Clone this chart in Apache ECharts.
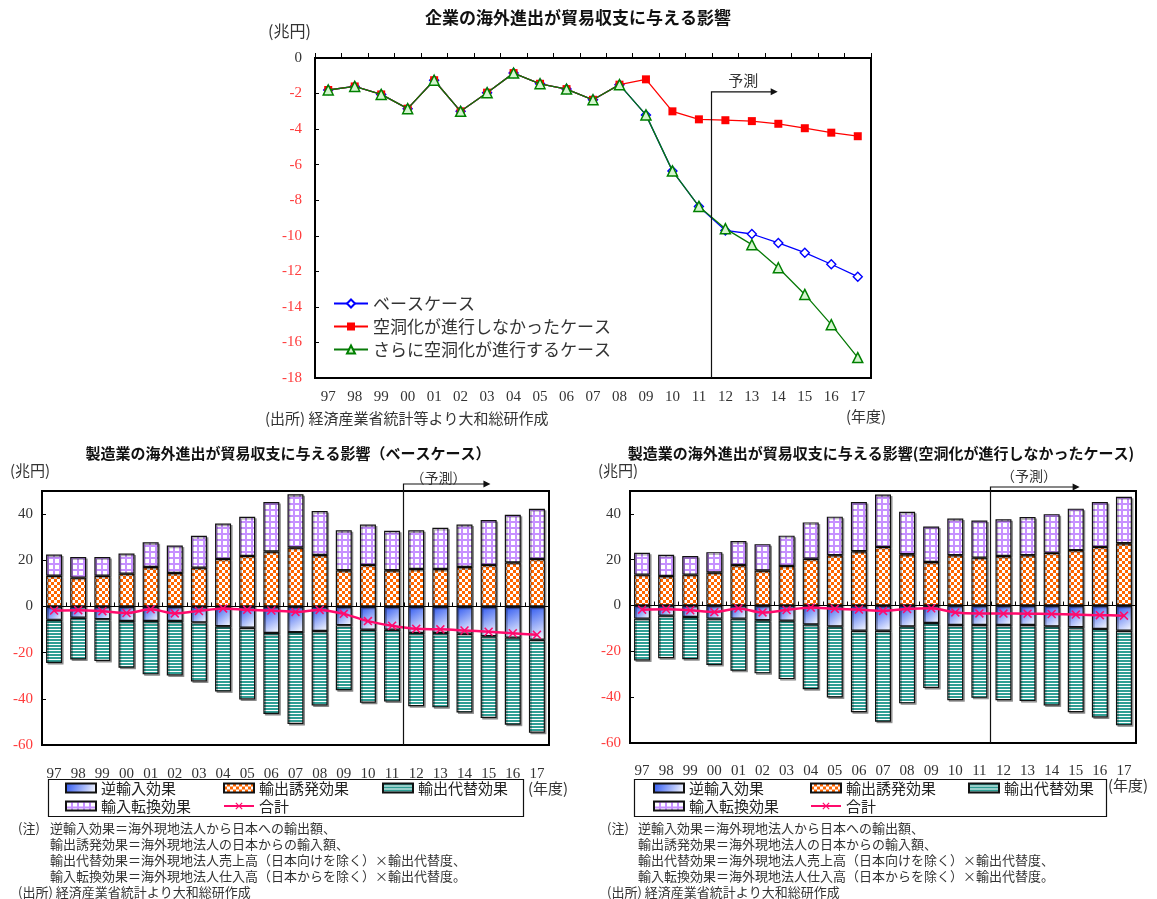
<!DOCTYPE html>
<html>
<head>
<meta charset="utf-8">
<script src="https://cdn.jsdelivr.net/npm/echarts@6.0.0/dist/echarts.min.js"></script>
<style>
  html, body { margin: 0; padding: 0; background: #fff; }
  #chart { width: 1157px; height: 899px; }
</style>
</head>
<body>
<div id="chart"></div>
<script>
// ---- data (兆円, 年度) ----
const years = ['97','98','99','00','01','02','03','04','05','06','07','08','09','10','11','12','13','14','15','16','17'];

// 企業の海外進出が貿易収支に与える影響
const baseCase       = [-1.8,-1.6,-2.05,-2.85,-1.25,-3.0,-1.95,-0.85,-1.45,-1.75,-2.35,-1.5,-3.2,-6.35,-8.35,-9.7,-9.9,-10.4,-10.95,-11.6,-12.3];
const noHollowCase   = [-1.8,-1.6,-2.05,-2.85,-1.25,-3.0,-1.95,-0.85,-1.45,-1.75,-2.35,-1.5,-1.2,-3.0,-3.45,-3.5,-3.55,-3.7,-3.95,-4.2,-4.4];
const moreHollowCase = [-1.8,-1.6,-2.05,-2.85,-1.25,-3.0,-1.95,-0.85,-1.45,-1.75,-2.35,-1.5,-3.2,-6.35,-8.35,-9.6,-10.5,-11.8,-13.3,-15.0,-16.85];

// 製造業（ベースケース）
const baseReverseImport = [-5.8,-4.9,-5.5,-6.3,-6.3,-6.3,-6.9,-8.6,-9.2,-11.5,-11.1,-10.6,-8.1,-10.1,-10.1,-11.5,-11.5,-11.8,-12.9,-13.5,-14.4];
const baseExportInduce  = [13.3,12.5,13.3,14.2,17.1,14.5,16.8,20.6,21.9,23.8,25.5,22.3,15.7,18.0,15.7,16.2,16.2,17.1,18.0,19.1,20.6];
const baseExportSubst   = [-18.7,-18.1,-18.1,-20.2,-23.1,-23.6,-25.6,-28.2,-31.1,-35.1,-39.8,-32.3,-28.2,-31.6,-31.1,-31.7,-32.2,-34.1,-35.4,-37.7,-40.3];
const baseImportConv    = [9.2,8.9,8.1,8.7,10.7,11.9,13.8,15.3,16.9,21.4,23.1,19.0,17.3,17.5,17.1,16.8,17.9,18.4,19.4,20.6,21.7];

// 製造業（空洞化が進行しなかったケース）
const nhReverseImport = [-5.7,-4.4,-5.0,-5.7,-5.7,-6.4,-6.6,-8.2,-9.1,-11.0,-11.0,-9.1,-7.6,-8.5,-8.5,-8.5,-8.5,-9.1,-9.5,-10.2,-11.0];
const nhExportInduce  = [13.5,12.9,13.5,14.4,17.7,15.3,17.3,20.4,22.0,23.7,25.6,22.4,19.0,22.0,20.9,21.6,22.0,23.0,24.2,25.6,27.2];
const nhExportSubst   = [-18.3,-18.6,-18.4,-20.2,-22.8,-23.2,-25.5,-28.3,-31.0,-35.6,-39.7,-33.6,-28.4,-32.8,-31.8,-32.8,-33.2,-34.5,-37.1,-38.7,-41.3];
const nhImportConv    = [9.5,9.3,8.1,8.9,10.5,11.5,13.2,15.9,16.8,21.5,22.9,18.5,15.5,16.0,16.2,16.1,16.6,16.9,18.1,19.6,20.3];

// ---- styles ----
const SERIF = "'Liberation Serif','DejaVu Serif',serif";
const JP = "'Noto Sans CJK JP','Noto Sans',sans-serif";
const RED = '#FF3B3B';
const INK = '#333';

function pattern(w, h, draw) {
  const c = document.createElement('canvas');
  c.width = w; c.height = h;
  draw(c.getContext('2d'));
  return { image: c, repeat: 'repeat' };
}
const orangeCheck = pattern(6, 6, g => {
  g.fillStyle = '#FF6600'; g.fillRect(0, 0, 6, 6);
  g.fillStyle = '#FFFFFF'; g.fillRect(0, 0, 3, 3); g.fillRect(3, 3, 3, 3);
});
const purpleGrid = pattern(6, 6, g => {
  g.fillStyle = '#C690FF'; g.fillRect(0, 0, 6, 6);
  g.fillStyle = '#FFFFFF'; g.fillRect(1, 1, 4, 4);
});
const tealStripe = pattern(4, 3, g => {
  g.fillStyle = '#2F9E94'; g.fillRect(0, 0, 4, 3);
  g.fillStyle = '#FFFFFF'; g.fillRect(0, 2, 4, 1);
});
const blueFade = new echarts.graphic.LinearGradient(0, 0, 1, 1, [
  { offset: 0, color: '#2B55F0' },
  { offset: 1, color: '#FFFFFF' }
]);
const X_MARK = 'path://M0,1.2L1.2,0L5,3.8L8.8,0L10,1.2L6.2,5L10,8.8L8.8,10L5,6.2L1.2,10L0,8.8L3.8,5Z';

function yFmt(v) {
  if (v === 50) return '';
  return v < 0 ? '{r|' + v + '}' : '{k|' + v + '}';
}
const yRich = {
  r: { color: RED, fontFamily: SERIF, fontSize: 15 },
  k: { color: INK, fontFamily: SERIF, fontSize: 15 }
};

function barSeries(name, data, fill, xi, yi, stack) {
  return {
    name, type: 'bar', data, stack, xAxisIndex: xi, yAxisIndex: yi,
    barWidth: 16,
    itemStyle: { color: fill, borderColor: '#111', borderWidth: 1.2,
                 shadowColor: 'rgba(0,0,0,0.35)', shadowOffsetX: 1.5, shadowOffsetY: 1.5 },
    z: 2
  };
}
function totalSeries(data, xi, yi) {
  return {
    name: '合計', type: 'line', data, xAxisIndex: xi, yAxisIndex: yi,
    smooth: 0.3, symbol: X_MARK, symbolSize: 9,
    lineStyle: { color: '#FF0A6C', width: 2.5 },
    itemStyle: { color: '#FF0A6C' },
    z: 10
  };
}
function zeroAxis(gi) {
  return {
    gridIndex: gi, type: 'category', data: years, position: 'bottom',
    axisLine: { show: true, onZero: true, lineStyle: { color: '#000', width: 1 } },
    axisTick: { show: true, inside: true, length: 4, lineStyle: { color: '#000' } },
    axisLabel: { show: false }, splitLine: { show: false }
  };
}
function labelAxis(gi, margin) {
  return {
    gridIndex: gi, type: 'category', data: years, position: 'bottom',
    axisLine: { show: false, onZero: false }, axisTick: { show: false },
    axisLabel: { fontFamily: SERIF, fontSize: 15, color: INK, margin }, splitLine: { show: false }
  };
}
function barValueAxis(gi) {
  return {
    gridIndex: gi, type: 'value', min: -60, max: 50, interval: 20,
    axisLine: { show: false }, splitLine: { show: false },
    axisTick: { show: true, inside: true, length: 4, lineStyle: { color: '#000' } },
    axisLabel: { formatter: yFmt, rich: yRich, margin: 9 }
  };
}
function columnLegend(names, left) {
  return {
    orient: 'vertical', left, top: 780, itemGap: 2, padding: 0,
    itemWidth: 30, itemHeight: 9,
    data: names.map(n => n === '合計' ? { name: n } : { name: n, icon: 'rect' }),
    textStyle: { fontFamily: JP, fontSize: 15, color: '#222', lineHeight: 16 },
    selectedMode: false
  };
}

const chart = echarts.init(document.getElementById('chart'), null, { renderer: 'canvas' });

chart.setOption({
  animation: false,
  backgroundColor: '#fff',
  grid: [
    { left: 315, top: 58, width: 556, height: 320, show: true, borderColor: '#000', borderWidth: 2, outerBoundsMode: 'none' },
    { left: 42, top: 491, width: 507, height: 254, show: true, borderColor: '#000', borderWidth: 2, outerBoundsMode: 'none' },
    { left: 630, top: 491, width: 506, height: 252, show: true, borderColor: '#000', borderWidth: 2, outerBoundsMode: 'none' }
  ],
  xAxis: [
    {
      gridIndex: 0, type: 'category', data: years, position: 'top',
      axisLine: { show: false, onZero: false },
      axisTick: { show: true, inside: false, length: 5, lineStyle: { color: '#000' } },
      axisLabel: { show: false }, splitLine: { show: false }
    },
    labelAxis(0, 12),
    zeroAxis(1), labelAxis(1, 22),
    zeroAxis(2), labelAxis(2, 21)
  ],
  yAxis: [
    {
      gridIndex: 0, type: 'value', min: -18, max: 0, interval: 2,
      axisLine: { show: false }, splitLine: { show: false },
      axisTick: { show: true, inside: true, length: 4, lineStyle: { color: '#000' } },
      axisLabel: { formatter: yFmt, rich: yRich, margin: 13 }
    },
    barValueAxis(1),
    barValueAxis(2)
  ],
  legend: [
    {
      orient: 'vertical', left: 333, top: 295, itemGap: 6, padding: 0,
      itemWidth: 34, itemHeight: 10,
      data: ['ベースケース', '空洞化が進行しなかったケース', 'さらに空洞化が進行するケース'],
      textStyle: { fontFamily: JP, fontSize: 17, color: '#333', lineHeight: 16 },
      selectedMode: false
    },
    columnLegend(['逆輸入効果', '輸入転換効果'], 65),
    columnLegend(['輸出誘発効果', '合計'], 223),
    columnLegend(['輸出代替効果'], 382),
    columnLegend(['逆輸入効果', '輸入転換効果'], 653),
    columnLegend(['輸出誘発効果', '合計'], 810),
    columnLegend(['輸出代替効果'], 968)
  ],
  series: [
    {
      name: 'ベースケース', type: 'line', data: baseCase, xAxisIndex: 0, yAxisIndex: 0,
      symbol: 'diamond', symbolSize: 9,
      itemStyle: { color: '#FFFFFF', borderColor: '#0000FF', borderWidth: 1.4 },
      lineStyle: { color: '#0000FF', width: 1.3 }, z: 3
    },
    {
      name: '空洞化が進行しなかったケース', type: 'line', data: noHollowCase, xAxisIndex: 0, yAxisIndex: 0,
      symbol: 'rect', symbolSize: 8,
      itemStyle: { color: '#FF0000' },
      lineStyle: { color: '#FF0000', width: 1.3 }, z: 4
    },
    {
      name: 'さらに空洞化が進行するケース', type: 'line', data: moreHollowCase, xAxisIndex: 0, yAxisIndex: 0,
      symbol: 'triangle', symbolSize: 10,
      itemStyle: { color: '#D4F5CF', borderColor: '#008000', borderWidth: 1.5 },
      lineStyle: { color: '#087A08', width: 1.3 }, z: 5
    },

    barSeries('逆輸入効果', baseReverseImport, blueFade, 2, 1, 'base'),
    barSeries('輸出誘発効果', baseExportInduce, orangeCheck, 2, 1, 'base'),
    barSeries('輸出代替効果', baseExportSubst, tealStripe, 2, 1, 'base'),
    barSeries('輸入転換効果', baseImportConv, purpleGrid, 2, 1, 'base'),
    totalSeries(baseCase, 2, 1),

    barSeries('逆輸入効果', nhReverseImport, blueFade, 4, 2, 'nh'),
    barSeries('輸出誘発効果', nhExportInduce, orangeCheck, 4, 2, 'nh'),
    barSeries('輸出代替効果', nhExportSubst, tealStripe, 4, 2, 'nh'),
    barSeries('輸入転換効果', nhImportConv, purpleGrid, 4, 2, 'nh'),
    totalSeries(noHollowCase, 4, 2)
  ]
});

// ---- titles, notes and forecast markers ----
function txt(text, x, y, opts) {
  const o = opts || {};
  return {
    type: 'text', silent: true, z: 50,
    style: {
      text, x, y,
      fill: o.fill || '#222',
      font: (o.weight || 'normal') + ' ' + (o.size || 13) + 'px ' + (o.family || JP),
      textAlign: o.align || 'left', align: o.align || 'left',
      textVerticalAlign: 'middle', verticalAlign: 'middle'
    }
  };
}

function forecast(xi, yi, arrowY, arrowBands, label, labelBands, labelDy, labelSize) {
  const a = chart.convertToPixel({ xAxisIndex: xi }, '11');
  const b = chart.convertToPixel({ xAxisIndex: xi }, '12');
  const band = b - a;
  const lx = Math.round((a + b) / 2) - 0.5;
  const bottom = chart.convertToPixel({ yAxisIndex: yi }, yi === 0 ? -18 : -60);
  const ex = lx + band * arrowBands;
  return [
    { type: 'polyline', silent: true, z: 40,
      shape: { points: [[lx, bottom], [lx, arrowY], [ex - 6, arrowY]] },
      style: { stroke: '#111', lineWidth: 1.2, fill: null } },
    { type: 'polygon', silent: true, z: 40,
      shape: { points: [[ex - 7, arrowY - 3.5], [ex, arrowY], [ex - 7, arrowY + 3.5]] },
      style: { fill: '#111' } },
    txt(label, lx + band * labelBands, arrowY + labelDy, { size: labelSize, align: 'center', fill: '#333' })
  ];
}

const gTop = chart.convertToPixel({ yAxisIndex: 0 }, -1.9);
const gLeft = chart.convertToPixel({ yAxisIndex: 1 }, 50) - 7;
const gRight = chart.convertToPixel({ yAxisIndex: 2 }, 50) - 4;

const notes = [
  '逆輸入効果＝海外現地法人から日本への輸出額、',
  '輸出誘発効果＝海外現地法人の日本からの輸入額、',
  '輸出代替効果＝海外現地法人売上高（日本向けを除く）×輸出代替度、',
  '輸入転換効果＝海外現地法人仕入高（日本からを除く）×輸出代替度。'
];
function noteBlock(x0, indent) {
  const out = [txt('(注)', x0, 828, { size: 13, fill: '#333' })];
  notes.forEach((n, i) => out.push(txt(n, x0 + indent, 828 + i * 16, { size: 13, fill: '#333' })));
  out.push(txt('(出所) 経済産業省統計より大和総研作成', x0, 892, { size: 13, fill: '#333' }));
  return out;
}

const graphics = [
  txt('企業の海外進出が貿易収支に与える影響', 578, 18, { size: 17, weight: 'bold', align: 'center', fill: '#111' }),
  txt('(兆円)', 268, 31, { size: 16, fill: '#333' }),
  txt('(出所) 経済産業省統計等より大和総研作成', 265, 418, { size: 15, fill: '#333' }),
  txt('(年度)', 846, 416, { size: 15, fill: '#333' }),

  txt('製造業の海外進出が貿易収支に与える影響（ベースケース）', 288, 453, { size: 15, weight: 'bold', align: 'center', fill: '#111' }),
  txt('(兆円)', 10, 470, { size: 15, fill: '#333' }),
  txt('(年度)', 528, 788, { size: 15, fill: '#333' }),

  txt('製造業の海外進出が貿易収支に与える影響(空洞化が進行しなかったケース)', 881, 453, { size: 15, weight: 'bold', align: 'center', fill: '#111' }),
  txt('(兆円)', 598, 470, { size: 15, fill: '#333' }),
  txt('(年度)', 1108, 785, { size: 15, fill: '#333' }),

  { type: 'rect', silent: true, z: 30, shape: { x: 48.5, y: 779.5, width: 475, height: 37 },
    style: { fill: null, stroke: '#111', lineWidth: 1.2 } },
  { type: 'rect', silent: true, z: 30, shape: { x: 634.5, y: 779.5, width: 472, height: 37 },
    style: { fill: null, stroke: '#111', lineWidth: 1.2 } },

  ...noteBlock(18, 32),
  ...noteBlock(607, 31),

  ...forecast(0, 0, gTop, 2.5, '予測', 1.2, -11, 15),
  ...forecast(2, 1, gLeft, 3.6, '（予測）', 1.45, -6, 14),
  ...forecast(4, 2, gRight, 3.7, '（予測）', 1.6, -11, 14)
];

chart.setOption({ graphic: graphics });
</script>
</body>
</html>
